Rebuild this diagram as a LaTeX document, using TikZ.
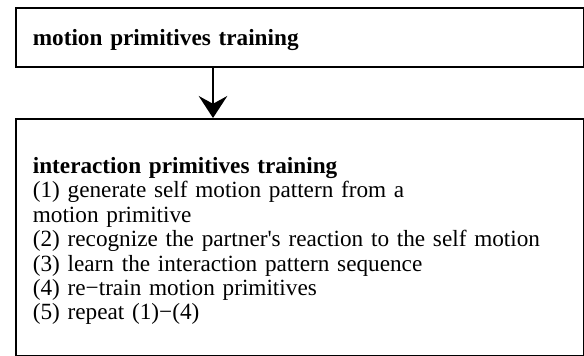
\documentclass[tikz,border=0pt]{standalone}
\usepackage{fontspec}
\setmainfont{Liberation Serif}
\usetikzlibrary{arrows.meta}

\tikzset{
  stage/.style={draw, line width=1pt, anchor=north west, inner xsep=9.8pt,
    text width=308pt, align=left, font=\fontsize{13.4}{14.1}\selectfont},
  flow/.style={line width=1pt, -{Stealth[length=12.7pt,width=16.5pt,inset=4.5pt]}}
}

\begin{document}
\begin{tikzpicture}[x=0.577pt,y=-0.577pt]
    \useasboundingbox (0,0) rectangle (584,356);

    % 第一阶段
    \node[stage, minimum height=34pt] (motion) at (15,7) {\rule{0pt}{12.6pt}\textbf{motion primitives training}};

    % 第二阶段
    \node[stage, minimum height=136.5pt] (interaction) at (15,118) {\rule{0pt}{13.8pt}\textbf{interaction primitives training}\\
      (1) generate self motion pattern from a\\
      motion primitive\\
      (2) recognize the partner\textquotesingle s reaction to the self motion\\
      (3) learn the interaction pattern sequence\\
      (4) re−train motion primitives\\
      (5) repeat (1)−(4)};

    % 箭头
    \coordinate (drop) at (213,0);
    \draw[flow] (motion.south -| drop) -- (interaction.north -| drop);
  \end{tikzpicture}
\end{document}
